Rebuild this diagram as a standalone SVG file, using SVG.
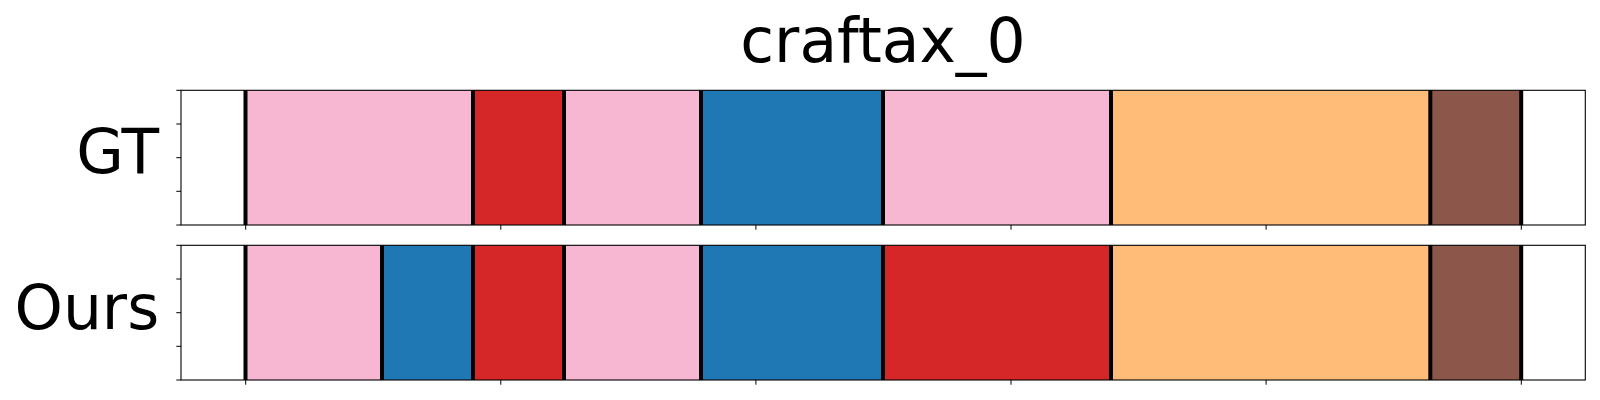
<svg xmlns="http://www.w3.org/2000/svg" width="1600" height="400" viewBox="0 0 1600 400">
<style>
text{font-family:"DejaVu Sans","Liberation Sans",sans-serif;fill:#000}
.t{font-size:61.5px}
.pk{fill:#f7b6d2}.rd{fill:#d62728}.bl{fill:#1f77b4}.or{fill:#ffbb78}.br{fill:#8c564b}
.sep{stroke:#000;stroke-width:4}
.spine{fill:none;stroke:#000;stroke-width:1.1}
.tick{stroke:#000;stroke-width:1}
</style>
<rect x="0" y="0" width="1600" height="400" fill="#fff"/>
<text class="t" x="883" y="61.8" text-anchor="middle">craftax_0</text>

<g id="gt">
  <g id="gt-segments">
    <rect class="pk" x="245.5" y="90.3" width="227.5" height="134.7"/>
    <rect class="rd" x="473" y="90.3" width="91" height="134.7"/>
    <rect class="pk" x="564" y="90.3" width="137" height="134.7"/>
    <rect class="bl" x="701" y="90.3" width="182" height="134.7"/>
    <rect class="pk" x="883" y="90.3" width="228" height="134.7"/>
    <rect class="or" x="1111" y="90.3" width="319.3" height="134.7"/>
    <rect class="br" x="1430.3" y="90.3" width="90.9" height="134.7"/>
  </g>
  <g id="gt-separators">
    <line class="sep" x1="245.5" y1="90.3" x2="245.5" y2="225"/>
    <line class="sep" x1="473" y1="90.3" x2="473" y2="225"/>
    <line class="sep" x1="564" y1="90.3" x2="564" y2="225"/>
    <line class="sep" x1="701" y1="90.3" x2="701" y2="225"/>
    <line class="sep" x1="883" y1="90.3" x2="883" y2="225"/>
    <line class="sep" x1="1111" y1="90.3" x2="1111" y2="225"/>
    <line class="sep" x1="1430.3" y1="90.3" x2="1430.3" y2="225"/>
    <line class="sep" x1="1521.2" y1="90.3" x2="1521.2" y2="225"/>
  </g>
  <rect class="spine" x="181" y="90.3" width="1404.3" height="134.7"/>
  <g id="gt-ticks">
    <line class="tick" x1="176.3" y1="90.3" x2="181" y2="90.3"/>
    <line class="tick" x1="176.3" y1="124" x2="181" y2="124"/>
    <line class="tick" x1="176.3" y1="157.7" x2="181" y2="157.7"/>
    <line class="tick" x1="176.3" y1="191.3" x2="181" y2="191.3"/>
    <line class="tick" x1="176.3" y1="225" x2="181" y2="225"/>
    <line class="tick" x1="245.7" y1="225" x2="245.7" y2="229.7"/>
    <line class="tick" x1="500.8" y1="225" x2="500.8" y2="229.7"/>
    <line class="tick" x1="755.9" y1="225" x2="755.9" y2="229.7"/>
    <line class="tick" x1="1011" y1="225" x2="1011" y2="229.7"/>
    <line class="tick" x1="1266.1" y1="225" x2="1266.1" y2="229.7"/>
    <line class="tick" x1="1521.3" y1="225" x2="1521.3" y2="229.7"/>
  </g>
  <text class="t" x="159.2" y="173.4" text-anchor="end">GT</text>
</g>

<g id="ours">
  <g id="ours-segments">
    <rect class="pk" x="245.5" y="245.3" width="136.5" height="134.7"/>
    <rect class="bl" x="382" y="245.3" width="91" height="134.7"/>
    <rect class="rd" x="473" y="245.3" width="91" height="134.7"/>
    <rect class="pk" x="564" y="245.3" width="137" height="134.7"/>
    <rect class="bl" x="701" y="245.3" width="182" height="134.7"/>
    <rect class="rd" x="883" y="245.3" width="228" height="134.7"/>
    <rect class="or" x="1111" y="245.3" width="319.3" height="134.7"/>
    <rect class="br" x="1430.3" y="245.3" width="90.9" height="134.7"/>
  </g>
  <g id="ours-separators">
    <line class="sep" x1="245.5" y1="245.3" x2="245.5" y2="380"/>
    <line class="sep" x1="382" y1="245.3" x2="382" y2="380"/>
    <line class="sep" x1="473" y1="245.3" x2="473" y2="380"/>
    <line class="sep" x1="564" y1="245.3" x2="564" y2="380"/>
    <line class="sep" x1="701" y1="245.3" x2="701" y2="380"/>
    <line class="sep" x1="883" y1="245.3" x2="883" y2="380"/>
    <line class="sep" x1="1111" y1="245.3" x2="1111" y2="380"/>
    <line class="sep" x1="1430.3" y1="245.3" x2="1430.3" y2="380"/>
    <line class="sep" x1="1521.2" y1="245.3" x2="1521.2" y2="380"/>
  </g>
  <rect class="spine" x="181" y="245.3" width="1404.3" height="134.7"/>
  <g id="ours-ticks">
    <line class="tick" x1="176.3" y1="245.3" x2="181" y2="245.3"/>
    <line class="tick" x1="176.3" y1="279" x2="181" y2="279"/>
    <line class="tick" x1="176.3" y1="312.7" x2="181" y2="312.7"/>
    <line class="tick" x1="176.3" y1="346.3" x2="181" y2="346.3"/>
    <line class="tick" x1="176.3" y1="380" x2="181" y2="380"/>
    <line class="tick" x1="245.7" y1="380" x2="245.7" y2="384.7"/>
    <line class="tick" x1="500.8" y1="380" x2="500.8" y2="384.7"/>
    <line class="tick" x1="755.9" y1="380" x2="755.9" y2="384.7"/>
    <line class="tick" x1="1011" y1="380" x2="1011" y2="384.7"/>
    <line class="tick" x1="1266.1" y1="380" x2="1266.1" y2="384.7"/>
    <line class="tick" x1="1521.3" y1="380" x2="1521.3" y2="384.7"/>
  </g>
  <text class="t" x="159.2" y="328.6" text-anchor="end">Ours</text>
</g>
</svg>
